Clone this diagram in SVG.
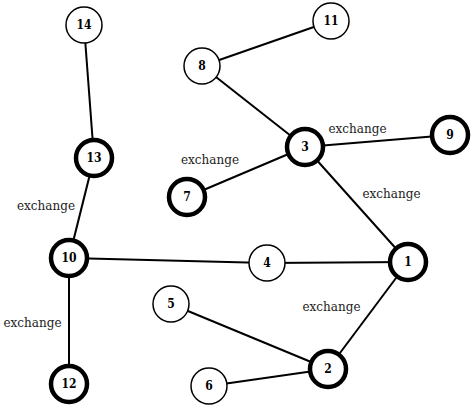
<svg xmlns="http://www.w3.org/2000/svg" width="475" height="410" viewBox="0 0 475 410">
<style>
.e{stroke:#000;stroke-width:2;fill:none}
.n{fill:#fff;stroke:#000;stroke-width:1.5}
.t{fill:#fff;stroke:#000;stroke-width:4.5}
.l{font-family:"DejaVu Serif Condensed","DejaVu Serif",serif;font-weight:bold;font-size:12px;text-anchor:middle;dominant-baseline:central}
.x{font-family:"DejaVu Serif",serif;font-size:12px;text-anchor:middle;fill:#222}
</style>
<rect width="475" height="410" fill="#fff"/>
<g id="edges">
<line class="e" x1="84" y1="25" x2="94" y2="158"/>
<line class="e" x1="94" y1="158" x2="69" y2="258"/>
<line class="e" x1="69" y1="258" x2="69" y2="384"/>
<line class="e" x1="69" y1="258" x2="267" y2="263"/>
<line class="e" x1="267" y1="263" x2="408" y2="262"/>
<line class="e" x1="408" y1="262" x2="305" y2="147"/>
<line class="e" x1="305" y1="147" x2="450" y2="135"/>
<line class="e" x1="305" y1="147" x2="202" y2="66"/>
<line class="e" x1="202" y1="66" x2="331" y2="21"/>
<line class="e" x1="305" y1="147" x2="187" y2="197"/>
<line class="e" x1="408" y1="262" x2="328" y2="369"/>
<line class="e" x1="328" y1="369" x2="171" y2="304"/>
<line class="e" x1="328" y1="369" x2="209" y2="386"/>
</g>
<g id="labels">
<text class="x" x="357.5" y="133">exchange</text>
<text class="x" x="210" y="164">exchange</text>
<text class="x" x="391.5" y="198">exchange</text>
<text class="x" x="46" y="210">exchange</text>
<text class="x" x="32.5" y="327">exchange</text>
<text class="x" x="331.5" y="311">exchange</text>
</g>
<g id="n14"><circle class="n" cx="84" cy="25" r="18"/><text class="l" x="84" y="25">14</text></g>
<g id="n11"><circle class="n" cx="331" cy="21" r="18"/><text class="l" x="331" y="21">11</text></g>
<g id="n8"><circle class="n" cx="202" cy="66" r="18"/><text class="l" x="202" y="66">8</text></g>
<g id="n3"><circle class="t" cx="305" cy="147" r="18"/><text class="l" x="305" y="147">3</text></g>
<g id="n9"><circle class="t" cx="450" cy="135" r="18"/><text class="l" x="450" y="135">9</text></g>
<g id="n13"><circle class="t" cx="94" cy="158" r="18"/><text class="l" x="94" y="158">13</text></g>
<g id="n7"><circle class="t" cx="187" cy="197" r="18"/><text class="l" x="187" y="197">7</text></g>
<g id="n10"><circle class="t" cx="69" cy="258" r="18"/><text class="l" x="69" y="258">10</text></g>
<g id="n4"><circle class="n" cx="267" cy="263" r="18"/><text class="l" x="267" y="263">4</text></g>
<g id="n1"><circle class="t" cx="408" cy="262" r="18"/><text class="l" x="408" y="262">1</text></g>
<g id="n5"><circle class="n" cx="171" cy="304" r="18"/><text class="l" x="171" y="304">5</text></g>
<g id="n2"><circle class="t" cx="328" cy="369" r="18"/><text class="l" x="328" y="369">2</text></g>
<g id="n6"><circle class="n" cx="209" cy="386" r="18"/><text class="l" x="209" y="386">6</text></g>
<g id="n12"><circle class="t" cx="69" cy="384" r="18"/><text class="l" x="69" y="384">12</text></g>
</svg>
